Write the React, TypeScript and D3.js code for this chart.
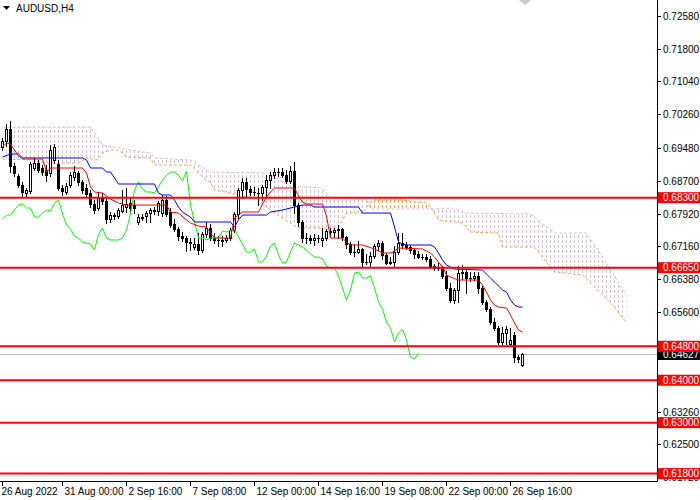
import { scaleLinear, line } from "d3";

// ---------- DATA (AUDUSD H4) ----------
const OPEN = [
  0.69494, 0.69635, 0.69918, 0.69046, 0.68811, 0.68598, 0.6841, 0.68457, 0.68999, 0.69116,
  0.68999, 0.68952, 0.68881, 0.69187, 0.69093, 0.68528, 0.68434, 0.68598, 0.68787, 0.68881,
  0.68669, 0.68528, 0.6841, 0.68151, 0.68057, 0.68316, 0.68221, 0.67797, 0.67868, 0.67868,
  0.67985, 0.6808, 0.68174, 0.68127, 0.67727, 0.67821, 0.67868, 0.67938, 0.68009, 0.67985,
  0.67938, 0.68245, 0.67962, 0.6768, 0.67562, 0.67397, 0.6735, 0.67256, 0.67138, 0.67209,
  0.67067, 0.67444, 0.67586, 0.6735, 0.67303, 0.67279, 0.67303, 0.6735, 0.67538, 0.67915,
  0.68481, 0.68669, 0.68504, 0.68434, 0.6841, 0.6841, 0.68551, 0.68716, 0.68834, 0.68905,
  0.68905, 0.68834, 0.68692, 0.68928, 0.68127, 0.67727, 0.6735, 0.6735, 0.67303, 0.6735,
  0.67303, 0.6735, 0.67514, 0.67491, 0.67538, 0.67562, 0.67373, 0.67209, 0.6702, 0.6702,
  0.67091, 0.66784, 0.66784, 0.66926, 0.67162, 0.67232, 0.66949, 0.6676, 0.66784, 0.6702,
  0.67232, 0.67185, 0.67138, 0.67067, 0.66973, 0.66902, 0.66902, 0.66855, 0.6669, 0.66643,
  0.66643, 0.66455, 0.66172, 0.65889, 0.66125, 0.66525, 0.66549, 0.66408, 0.66408, 0.66455,
  0.66172, 0.65842, 0.65677, 0.65371, 0.6523, 0.649, 0.65111, 0.64853, 0.65064, 0.64546,
  0.64357,
];
const HIGH = [
  0.69706, 0.70036, 0.70106, 0.69116, 0.68858, 0.68669, 0.68528, 0.6914, 0.69235, 0.69187,
  0.69069, 0.69069, 0.69541, 0.69565, 0.69187, 0.68598, 0.68645, 0.68905, 0.69046, 0.68928,
  0.68716, 0.68622, 0.68481, 0.68245, 0.6841, 0.6841, 0.68293, 0.67962, 0.67938, 0.68057,
  0.68481, 0.68528, 0.68293, 0.68245, 0.67915, 0.67915, 0.67985, 0.68057, 0.6808, 0.68221,
  0.68363, 0.6834, 0.68057, 0.67797, 0.67609, 0.67491, 0.67397, 0.6735, 0.6735, 0.67467,
  0.67491, 0.67727, 0.6768, 0.67467, 0.67397, 0.67397, 0.6742, 0.67586, 0.67962, 0.68528,
  0.68764, 0.68764, 0.68575, 0.68551, 0.68528, 0.68598, 0.68834, 0.68905, 0.68999, 0.68999,
  0.68999, 0.68952, 0.69046, 0.6914, 0.68174, 0.67774, 0.67467, 0.6742, 0.67444, 0.6742,
  0.67586, 0.67562, 0.67586, 0.67586, 0.67656, 0.67586, 0.67397, 0.67256, 0.67209, 0.67279,
  0.67115, 0.66973, 0.6702, 0.67209, 0.67303, 0.67279, 0.66996, 0.66902, 0.67162, 0.67467,
  0.67467, 0.67256, 0.67185, 0.67115, 0.67043, 0.66973, 0.66973, 0.66926, 0.66737, 0.6676,
  0.6669, 0.66572, 0.66289, 0.66172, 0.6669, 0.66713, 0.66643, 0.66549, 0.66549, 0.66549,
  0.66219, 0.65889, 0.65724, 0.65465, 0.65277, 0.65253, 0.65277, 0.6523, 0.65135, 0.64593,
  0.6464,
];
const LOW = [
  0.69423, 0.69518, 0.68905, 0.68811, 0.68551, 0.6834, 0.6834, 0.6841, 0.68952, 0.68905,
  0.68834, 0.68692, 0.68811, 0.69116, 0.68481, 0.68363, 0.68387, 0.68551, 0.68716, 0.68598,
  0.6841, 0.68316, 0.6808, 0.67938, 0.68009, 0.68151, 0.67703, 0.67727, 0.67797, 0.67821,
  0.67962, 0.67962, 0.67962, 0.67938, 0.6768, 0.67774, 0.67727, 0.67727, 0.67915, 0.67891,
  0.67868, 0.67868, 0.67609, 0.67514, 0.67303, 0.67279, 0.67043, 0.67067, 0.67091, 0.66973,
  0.6702, 0.67373, 0.67303, 0.67232, 0.67162, 0.67162, 0.67256, 0.67303, 0.67491, 0.67821,
  0.68293, 0.68316, 0.68363, 0.68363, 0.68127, 0.68245, 0.68293, 0.68528, 0.68764, 0.68811,
  0.68787, 0.68645, 0.68645, 0.67938, 0.67633, 0.67256, 0.67232, 0.67232, 0.67185, 0.67256,
  0.67162, 0.67303, 0.67373, 0.67373, 0.6735, 0.67303, 0.67115, 0.66973, 0.66926, 0.66996,
  0.6669, 0.66737, 0.6669, 0.66879, 0.67067, 0.66855, 0.66737, 0.66737, 0.6669, 0.66973,
  0.67115, 0.67091, 0.66996, 0.66879, 0.66879, 0.66855, 0.66807, 0.66643, 0.66596, 0.66596,
  0.66408, 0.66125, 0.65842, 0.65818, 0.65842, 0.66384, 0.66054, 0.66336, 0.6636, 0.66054,
  0.65795, 0.65629, 0.65324, 0.65182, 0.64853, 0.64829, 0.64853, 0.64806, 0.64428, 0.64428,
  0.64334,
];
const CLOSE = [
  0.69635, 0.69918, 0.69046, 0.68881, 0.68598, 0.68434, 0.68481, 0.69093, 0.69116, 0.68952,
  0.68905, 0.68834, 0.69423, 0.69494, 0.68528, 0.68457, 0.68575, 0.68834, 0.68905, 0.68669,
  0.68481, 0.68387, 0.68151, 0.68009, 0.68316, 0.68221, 0.67797, 0.67891, 0.67891, 0.68009,
  0.68127, 0.68151, 0.68057, 0.68057, 0.67844, 0.67844, 0.67938, 0.68009, 0.67985, 0.68174,
  0.68245, 0.67915, 0.67656, 0.67562, 0.67397, 0.6735, 0.67256, 0.67232, 0.67209, 0.67067,
  0.67444, 0.67586, 0.6735, 0.67303, 0.67303, 0.67303, 0.6735, 0.67538, 0.67915, 0.68481,
  0.68669, 0.68504, 0.68434, 0.68434, 0.6841, 0.68551, 0.68716, 0.68834, 0.68905, 0.68905,
  0.68834, 0.68692, 0.68928, 0.68127, 0.67727, 0.6735, 0.6735, 0.67303, 0.6735, 0.6735,
  0.6735, 0.67514, 0.67491, 0.67538, 0.67562, 0.67373, 0.67209, 0.6702, 0.6702, 0.67091,
  0.66784, 0.66784, 0.66926, 0.67162, 0.67232, 0.66949, 0.6676, 0.66784, 0.6702, 0.67232,
  0.67185, 0.67138, 0.67067, 0.66973, 0.66902, 0.66902, 0.66855, 0.6669, 0.66643, 0.66643,
  0.66455, 0.66172, 0.65889, 0.66125, 0.66525, 0.66549, 0.66408, 0.66408, 0.66455, 0.66172,
  0.65842, 0.65677, 0.65371, 0.6523, 0.649, 0.65111, 0.65206, 0.64947, 0.64546, 0.64499,
  0.64627,
];

// Ichimoku lines as [bar, price] knots
const TENKAN: [number, number][] = [
  [0, 0.69494], [1, 0.69588], [2, 0.69565], [4, 0.69282], [5, 0.69211], [10, 0.69211],
  [11, 0.68905], [12, 0.68999], [20, 0.68999], [21, 0.68881], [22, 0.68551], [23, 0.68434],
  [25, 0.6841], [27, 0.68269], [29, 0.68174], [31, 0.68127], [41, 0.68127], [42, 0.67962],
  [44, 0.67938], [46, 0.67774], [47, 0.67703], [49, 0.67633], [51, 0.67609], [52, 0.67467],
  [53, 0.6735], [57, 0.6735], [58, 0.67821], [59, 0.67891], [60, 0.67962], [64, 0.67962],
  [65, 0.68151], [66, 0.68316], [67, 0.68434], [68, 0.68528], [73, 0.68528], [74, 0.6834],
  [75, 0.68198], [76, 0.68151], [80, 0.68151], [81, 0.67868], [82, 0.6735], [85, 0.6735],
  [86, 0.67256], [87, 0.67185], [90, 0.67185], [93, 0.67091], [95, 0.66996], [97, 0.66996],
  [98, 0.67043], [99, 0.67115], [105, 0.67091], [106, 0.67043], [107, 0.66996], [108, 0.66902],
  [109, 0.66784], [110, 0.66666], [111, 0.66478], [112, 0.66431], [114, 0.6636], [119, 0.6636],
  [120, 0.66242], [121, 0.66078], [122, 0.65889], [123, 0.65771], [124, 0.65724], [126, 0.657],
  [127, 0.65535], [128, 0.65347], [129, 0.65182], [130, 0.65135],
];
const KIJUN: [number, number][] = [
  [0, 0.69258], [2, 0.69329], [4, 0.69329], [5, 0.69235], [20, 0.69235], [21, 0.69187],
  [22, 0.68999], [25, 0.68999], [26, 0.68905], [27, 0.68905], [28, 0.68764], [29, 0.68622],
  [38, 0.68622], [39, 0.6841], [40, 0.68363], [42, 0.68363], [43, 0.68245], [44, 0.6808],
  [45, 0.67962], [47, 0.67844], [48, 0.67727], [57, 0.67727], [58, 0.67609], [59, 0.67774],
  [60, 0.67891], [66, 0.67891], [67, 0.67962], [70, 0.68009], [73, 0.6808], [75, 0.68127],
  [77, 0.68127], [78, 0.6808], [89, 0.6808], [90, 0.67938], [97, 0.67938], [98, 0.67609],
  [99, 0.67256], [100, 0.67209], [101, 0.67185], [107, 0.67185], [108, 0.67138], [109, 0.66996],
  [110, 0.66831], [111, 0.66713], [112, 0.66666], [113, 0.66619], [120, 0.66596], [121, 0.66502],
  [122, 0.66408], [123, 0.66313], [124, 0.66219], [125, 0.66125], [126, 0.66078], [127, 0.65889],
  [128, 0.65771], [129, 0.65724], [130, 0.65724],
];
const SENKOU_A: [number, number][] = [
  [0, 0.69211], [8, 0.69187], [10, 0.69116], [19, 0.69116], [21, 0.69235], [24, 0.69187],
  [25, 0.69352], [27, 0.69423], [29, 0.69423], [31, 0.69258], [37, 0.69235], [38, 0.69069],
  [47, 0.69069], [50, 0.68787], [52, 0.68645], [53, 0.68481], [57, 0.6841], [64, 0.68245],
  [66, 0.6808], [70, 0.67821], [74, 0.67586], [80, 0.67586], [84, 0.67609], [86, 0.67938],
  [90, 0.67938], [92, 0.68198], [93, 0.68245], [100, 0.68245], [106, 0.68174], [107, 0.6808],
  [109, 0.67774], [115, 0.67703], [116, 0.67609], [117, 0.67491], [124, 0.67467], [125, 0.67138],
  [133, 0.67138], [138, 0.66549], [145, 0.66478], [153, 0.65724], [155, 0.65465], [156, 0.65371],
];
const SENKOU_B: [number, number][] = [
  [0, 0.69965], [22, 0.69965], [23, 0.69823], [25, 0.69541], [32, 0.69423], [37, 0.69352],
  [38, 0.69235], [47, 0.69187], [49, 0.69069], [52, 0.68905], [66, 0.68881], [72, 0.68575],
  [80, 0.68528], [82, 0.68293], [91, 0.68269], [92, 0.68033], [107, 0.68033], [112, 0.68057],
  [115, 0.67962], [116, 0.67938], [132, 0.67915], [138, 0.67467], [146, 0.67467], [150, 0.66902],
  [156, 0.66007],
];
const CHIKOU_SHIFT = 26;

const LEVELS = [0.683, 0.6665, 0.648, 0.64, 0.63, 0.618];
const CURRENT_PRICE = 0.64627;
const PRICE_TICKS = [
  0.7258, 0.718, 0.7104, 0.7026, 0.6948, 0.687, 0.6792, 0.6716, 0.6638, 0.656, 0.6482,
  0.6404, 0.6326, 0.625, 0.6172,
];
const TIME_BARS = [0, 15, 31, 47, 63, 79, 95, 111, 127];
const TIME_LABELS = [
  "26 Aug 2022", "31 Aug 00:00", "2 Sep 16:00", "7 Sep 08:00", "12 Sep 00:00",
  "14 Sep 16:00", "19 Sep 08:00", "22 Sep 00:00", "26 Sep 16:00",
];

const W = 700;
const H = 500;
const PLOT_R = 657;
const PLOT_B = 481;
const FONT = "Liberation Sans, Arial, sans-serif";

export default function App() {
  const x = scaleLinear().domain([0, 164]).range([2.5, 658.5]);
  const y = scaleLinear().domain([0.6172, 0.7258]).range([477, 16]);

  const knotLine = line<[number, number]>()
    .x(d => x(d[0]))
    .y(d => y(d[1]));

  const chikou: [number, number][] = CLOSE.slice(CHIKOU_SHIFT).map((c, k) => [k, c]);

  // cloud polygon = A forward + B backward
  const aPath = knotLine(SENKOU_A) ?? "";
  const bRev = knotLine([...SENKOU_B].reverse()) ?? "";
  const cloudPath = aPath + "L" + bRev.slice(1) + "Z";
  const lastA = SENKOU_A[SENKOU_A.length - 1][0];
  const firstA = SENKOU_A[0][0];
  const clipAbove = aPath + `L${x(lastA)},0L${x(firstA)},0Z`;
  const clipBelow = aPath + `L${x(lastA)},${PLOT_B}L${x(firstA)},${PLOT_B}Z`;

  const yPx = (v: number) => Math.round(y(v));

  return (
    <svg
      width={W}
      height={H}
      style={{ position: "fixed", left: 0, top: 0, background: "#fff" }}
      fontFamily={FONT}
    >
      <defs>
        <pattern id="thistleDots" width={4} height={5} patternUnits="userSpaceOnUse">
          <rect x={2} y={0} width={1} height={3} fill="#D8BFD8" />
        </pattern>
        <pattern id="sandyDots" width={4} height={5} patternUnits="userSpaceOnUse">
          <rect x={2} y={0} width={1} height={3} fill="#F4A460" />
        </pattern>
        <clipPath id="aboveA">
          <path d={clipAbove} />
        </clipPath>
        <clipPath id="belowA">
          <path d={clipBelow} />
        </clipPath>
        <clipPath id="plot">
          <rect x={0} y={0} width={PLOT_R} height={PLOT_B} />
        </clipPath>
      </defs>

      <rect x={0} y={0} width={W} height={H} fill="#fff" />

      <g clipPath="url(#plot)">
        {/* current price line */}
        <line
          x1={0}
          x2={PLOT_R}
          y1={yPx(CURRENT_PRICE) + 0.5}
          y2={yPx(CURRENT_PRICE) + 0.5}
          stroke="#C0C0C0"
        />

        {/* KUMO */}
        <path d={cloudPath} fill="url(#thistleDots)" clipPath="url(#aboveA)" />
        <path d={cloudPath} fill="url(#sandyDots)" clipPath="url(#belowA)" />
        <path d={knotLine(SENKOU_B) ?? ""} fill="none" stroke="#D8BFD8" strokeDasharray="3,2" />
        <path d={aPath} fill="none" stroke="#F4A460" strokeDasharray="3,2" />

        {/* CANDLES */}
        {CLOSE.map((c, i) => {
          const o = OPEN[i];
          const cx = x(i);
          const yo = yPx(o);
          const yc = yPx(c);
          const bull = c >= o;
          const top = Math.min(yo, yc);
          const h = Math.abs(yo - yc);
          return (
            <g key={i}>
              <line x1={cx} x2={cx} y1={yPx(HIGH[i])} y2={yPx(LOW[i]) + 1} stroke="#000" />
              {h === 0 ? (
                <line x1={cx - 1.5} x2={cx + 1.5} y1={top + 0.5} y2={top + 0.5} stroke="#000" />
              ) : bull ? (
                <rect x={cx - 1} y={top + 0.5} width={2} height={h} fill="#fff" stroke="#000" />
              ) : (
                <rect x={cx - 1.5} y={top} width={3} height={h + 1} fill="#000" />
              )}
            </g>
          );
        })}

        {/* LINES */}
        <path d={knotLine(chikou) ?? ""} fill="none" stroke="#00FF00" />
        <path d={knotLine(KIJUN) ?? ""} fill="none" stroke="#0000FF" />
        <path d={knotLine(TENKAN) ?? ""} fill="none" stroke="#FF0000" />

        {/* LEVELS */}
        {LEVELS.map(v => (
          <line key={v} x1={0} x2={PLOT_R} y1={y(v)} y2={y(v)} stroke="#FF0000" strokeWidth={2} />
        ))}
      </g>

      {/* AXES */}
      <line x1={PLOT_R + 0.5} x2={PLOT_R + 0.5} y1={0} y2={PLOT_B + 0.5} stroke="#000" />
      <line x1={0} x2={PLOT_R + 0.5} y1={PLOT_B + 0.5} y2={PLOT_B + 0.5} stroke="#000" />

      {PRICE_TICKS.map(t => (
        <g key={t} transform={`translate(0,${yPx(t) + 0.5})`}>
          <line x1={PLOT_R} x2={PLOT_R + 4} stroke="#000" />
          <text x={663} dy="0.35em" fontSize={10} fill="#000">
            {t.toFixed(5)}
          </text>
        </g>
      ))}

      {TIME_BARS.map((b, i) => (
        <g key={b} transform={`translate(${Math.floor(x(b)) + 0.5},${PLOT_B})`}>
          <line y1={0} y2={5} stroke="#000" />
          <text x={i === 0 ? -1 : 2} y={14} fontSize={10} fill="#000">
            {TIME_LABELS[i]}
          </text>
        </g>
      ))}

      {/* price labels */}
      <rect x={PLOT_R + 1} y={yPx(CURRENT_PRICE) - 5} width={W - PLOT_R - 1} height={11} fill="#000" />
      <text x={663} y={yPx(CURRENT_PRICE) + 0.5} dy="0.35em" fontSize={10} fill="#fff">
        {CURRENT_PRICE.toFixed(5)}
      </text>
      {LEVELS.map(v => (
        <g key={v}>
          <rect x={PLOT_R + 1} y={y(v) - 5.5} width={W - PLOT_R - 1} height={11} fill="#FF0000" />
          <text x={663} y={y(v)} dy="0.35em" fontSize={10} fill="#fff">
            {v.toFixed(5)}
          </text>
        </g>
      ))}

      {/* title */}
      <path d="M3,6L10,6L6.5,10Z" fill="#000" />
      <text x={16} y={12} fontSize={10} fill="#000">
        AUDUSD,H4
      </text>

      {/* chart shift marker */}
      <path d="M519,0L531,0L525,5Z" fill="#C8C8C8" />
    </svg>
  );
}
